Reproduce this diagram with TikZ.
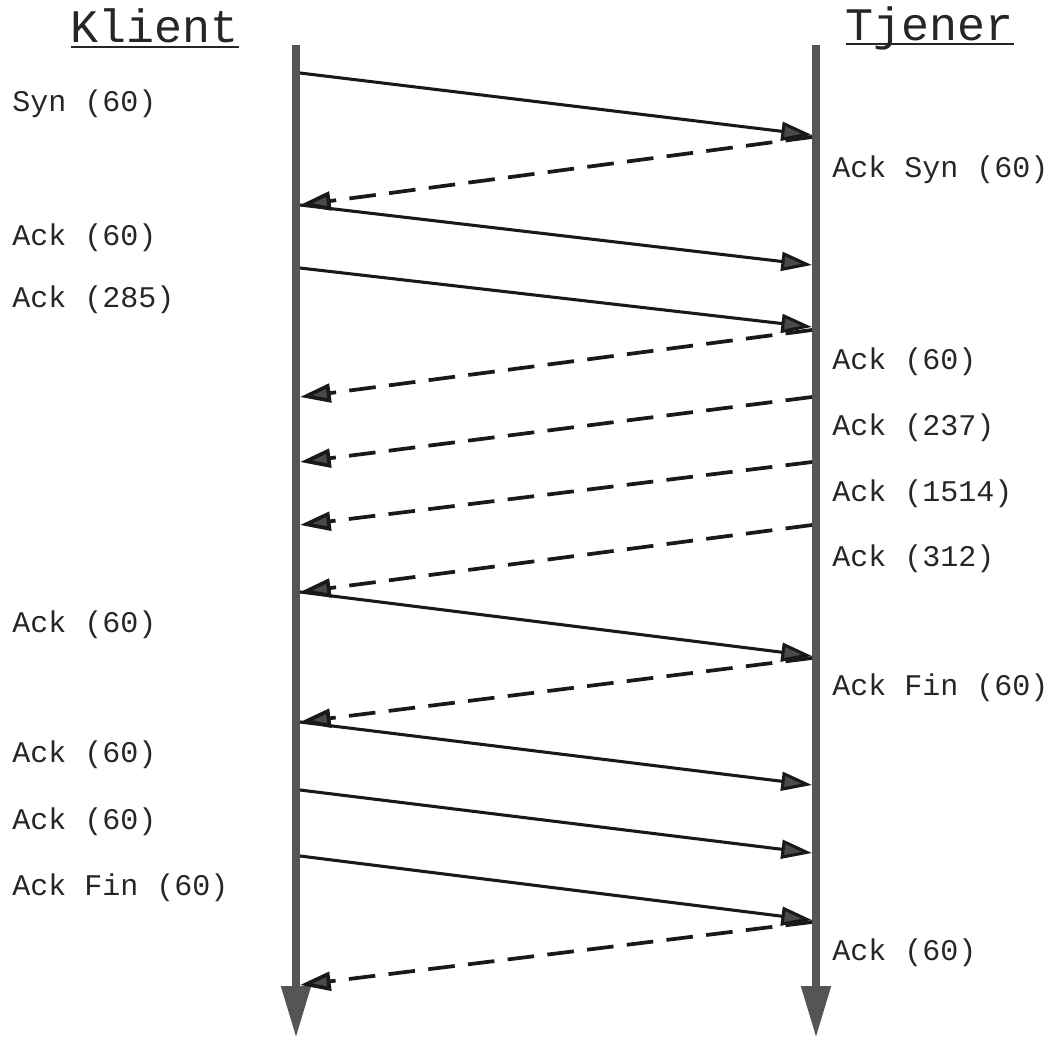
\documentclass[tikz,border=0pt]{standalone}
\usepackage{fontspec}
\setmainfont{Liberation Mono}
\usetikzlibrary{arrows.meta}
\definecolor{lifegray}{HTML}{555555}
\definecolor{tipgray}{HTML}{4A4A4A}
\begin{document}
\begin{tikzpicture}[x=0.75pt,y=-0.75pt,
  lifeline/.style={draw=lifegray,line width=6pt,-{Triangle[length=39pt,width=21pt,fill=lifegray]}},
  msg/.style={draw=black!90,line width=2.3pt,-{Triangle[length=23pt,width=14pt,fill=tipgray]}},
  reply/.style={msg,line width=2.8pt,dash pattern=on 20pt off 10pt},
  lab/.style={anchor=west,inner sep=0pt,font=\fontsize{22.5}{27}\selectfont,text=black!85},
  ttl/.style={anchor=base,inner sep=0pt,font=\fontsize{35}{42}\selectfont,text=black!85}]
\useasboundingbox (0,0) rectangle (1060,1039);
% titles
\node[ttl] (klient) at (155,42) {Klient};
\node[ttl] (tjener) at (930,40) {Tjener};
\draw[black!85,line width=1.6pt] ([yshift=-4pt]klient.base west) -- ([yshift=-4pt]klient.base east);
\draw[black!85,line width=1.6pt] ([yshift=-3pt]tjener.base west) -- ([yshift=-3pt]tjener.base east);
% lifelines
\coordinate (Ltop) at (296,45);
\coordinate (Lbot) at (296,1038);
\coordinate (Rtop) at (816,45);
\coordinate (Rbot) at (816,1038);
\draw[lifeline] (Ltop) -- (Lbot);
\draw[lifeline] (Rtop) -- (Rbot);
% message endpoints
\coordinate (a1) at (300,73);  \coordinate (b1) at (812,135);
\coordinate (b2) at (812,137); \coordinate (a2) at (300,205);
\coordinate (a3) at (300,205); \coordinate (b3) at (812,265);
\coordinate (a4) at (300,268); \coordinate (b4) at (812,327);
\coordinate (b5) at (812,330); \coordinate (a5) at (300,397);
\coordinate (b6) at (812,397); \coordinate (a6) at (300,462);
\coordinate (b7) at (812,462); \coordinate (a7) at (300,525);
\coordinate (b8) at (812,525); \coordinate (a8) at (300,592);
\coordinate (a9) at (300,592); \coordinate (b9) at (812,656);
\coordinate (b10) at (812,658); \coordinate (a10) at (300,722);
\coordinate (a11) at (300,722); \coordinate (b11) at (812,785);
\coordinate (a12) at (300,790); \coordinate (b12) at (812,853);
\coordinate (a13) at (300,856); \coordinate (b13) at (812,920);
\coordinate (b14) at (812,922); \coordinate (a14) at (300,985);
% messages
\draw[msg] (a1) -- (b1);
\draw[reply] (b2) -- (a2);
\draw[msg] (a3) -- (b3);
\draw[msg] (a4) -- (b4);
\draw[reply] (b5) -- (a5);
\draw[reply] (b6) -- (a6);
\draw[reply] (b7) -- (a7);
\draw[reply] (b8) -- (a8);
\draw[msg] (a9) -- (b9);
\draw[reply] (b10) -- (a10);
\draw[msg] (a11) -- (b11);
\draw[msg] (a12) -- (b12);
\draw[msg] (a13) -- (b13);
\draw[reply] (b14) -- (a14);
% left labels
\node[lab] (l1) at (12,104) {Syn (60)};
\node[lab] (l2) at (12,238) {Ack (60)};
\node[lab] (l3) at (12,300) {Ack (285)};
\node[lab] (l4) at (12,625) {Ack (60)};
\node[lab] (l5) at (12,755) {Ack (60)};
\node[lab] (l6) at (12,822) {Ack (60)};
\node[lab] (l7) at (12,888) {Ack Fin (60)};
% right labels
\node[lab] (r1) at (832,170) {Ack Syn (60)};
\node[lab] (r2) at (832,362) {Ack (60)};
\node[lab] (r3) at (832,428) {Ack (237)};
\node[lab] (r4) at (832,494) {Ack (1514)};
\node[lab] (r5) at (832,559) {Ack (312)};
\node[lab] (r6) at (832,688) {Ack Fin (60)};
\node[lab] (r7) at (832,953) {Ack (60)};
\end{tikzpicture}
\end{document}
